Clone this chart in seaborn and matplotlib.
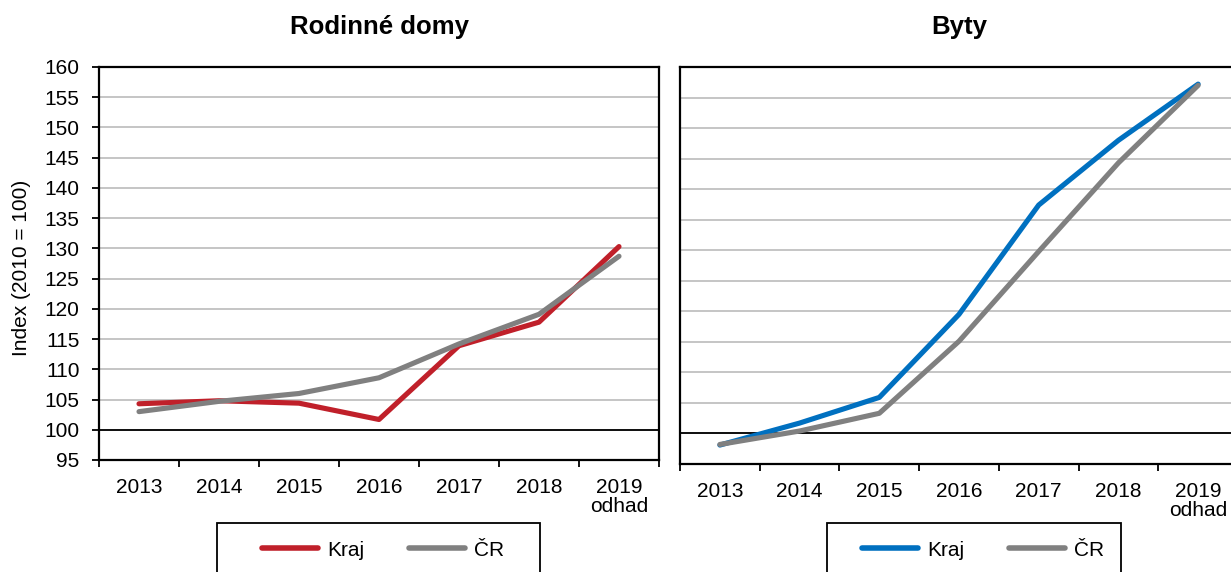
import numpy as np
import pandas as pd
import matplotlib.pyplot as plt
import seaborn as sns

roky = ['2013', '2014', '2015', '2016', '2017', '2018', '2019\nodhad']
serie = ['Kraj', 'ČR']

# Rodinné domy
rd_kraj = [104.3, 104.8, 104.4, 101.7, 113.9, 117.8, 130.3]
rd_cr = [103.0, 104.7, 106.0, 108.6, 114.2, 119.1, 128.7]

# Byty
byty_kraj = [98.1, 101.7, 105.9, 119.5, 137.4, 148.0, 157.2]
byty_cr = [98.2, 100.4, 103.3, 115.1, 129.8, 144.3, 157.0]

y_ticks = list(range(95, 161, 5))

sns.set_style('white')
plt.rcParams['font.family'] = ['Liberation Sans', 'DejaVu Sans']
plt.rcParams['text.color'] = 'black'
plt.rcParams['xtick.color'] = 'black'
plt.rcParams['ytick.color'] = 'black'
plt.rcParams['axes.labelcolor'] = 'black'

W, H = 1231, 572
fig = plt.figure(figsize=(W / 100, H / 100), dpi=100)
ax1 = fig.add_axes([99 / W, 1 - 460 / H, 560 / W, 393 / H])
ax2 = fig.add_axes([680 / W, 1 - 464 / H, 558 / W, 397 / H])


def long_df(kraj, cr):
    return pd.DataFrame({
        'rok': roky * 2,
        'index': kraj + cr,
        'serie': [serie[0]] * len(roky) + [serie[1]] * len(roky),
    })


panels = [
    (ax1, long_df(rd_kraj, rd_cr), '#C0202A', 'Rodinné domy', 262),
    (ax2, long_df(byty_kraj, byty_cr), '#0070C0', 'Byty', 862),
]

for ax, df, barva, nazev, leg_x in panels:
    sns.lineplot(data=df, x='rok', y='index', hue='serie', hue_order=serie,
                 palette=[barva, '#808080'], linewidth=3.7, sort=False,
                 solid_capstyle='round', ax=ax)
    ax.set_xlim(-0.5, 6.5)
    ax.set_ylim(95, 160)
    ax.set_yticks(y_ticks)
    ax.grid(axis='y', color='#C0C0C0', linewidth=1.3)
    ax.set_axisbelow(True)
    ax.axhline(100, color='black', linewidth=1.3, zorder=1.5)
    for s in ax.spines.values():
        s.set_color('black')
        s.set_linewidth(1.6)

    # category boundaries as ticks, labels in the middle
    ax.set_xticks(np.arange(-0.5, 7, 1))
    ax.set_xticklabels([])
    ax.set_xticks(range(len(roky)), minor=True)
    ax.set_xticklabels(roky, minor=True, fontsize=15, linespacing=1.0)
    ax.tick_params(axis='x', which='major', direction='out', length=5,
                   width=1.3, color='black', bottom=True)
    ax.tick_params(axis='x', which='minor', length=0, pad=13)
    ax.set_xlabel('')
    ax.set_ylabel('')

    cx = (ax.get_position().x0 + ax.get_position().x1) / 2
    fig.text(cx, 1 - 27 / H, nazev, ha='center', va='center',
             fontsize=18.5, fontweight='bold')

    h, l = ax.get_legend_handles_labels()
    leg = ax.legend(h, l, loc='center left', ncol=2, frameon=False,
                    bbox_to_anchor=(leg_x / W, 1 - 550 / H),
                    bbox_transform=fig.transFigure, fontsize=15,
                    handlelength=2.7, handletextpad=0.45, columnspacing=2.1,
                    borderpad=0, borderaxespad=0)
    for lh in leg.legend_handles:
        lh.set_linewidth(4)

# legend boxes (run off the bottom edge)
for x0, x1 in [(217, 540), (827, 1121)]:
    fig.patches.append(plt.Rectangle((x0 / W, -0.05), (x1 - x0) / W,
                                     0.05 + 1 - 523 / H, fill=False,
                                     edgecolor='black', linewidth=1.3,
                                     transform=fig.transFigure, figure=fig))

ax1.tick_params(axis='y', direction='out', length=5, width=1.3,
                color='black', left=True, labelsize=15, pad=9)
ax2.tick_params(axis='y', left=False, labelleft=False)

fig.text(22 / W, 1 - 268 / H, 'Index (2010 = 100)', rotation=90,
         ha='center', va='center', fontsize=15)

fig.savefig('out.png', dpi=100)
